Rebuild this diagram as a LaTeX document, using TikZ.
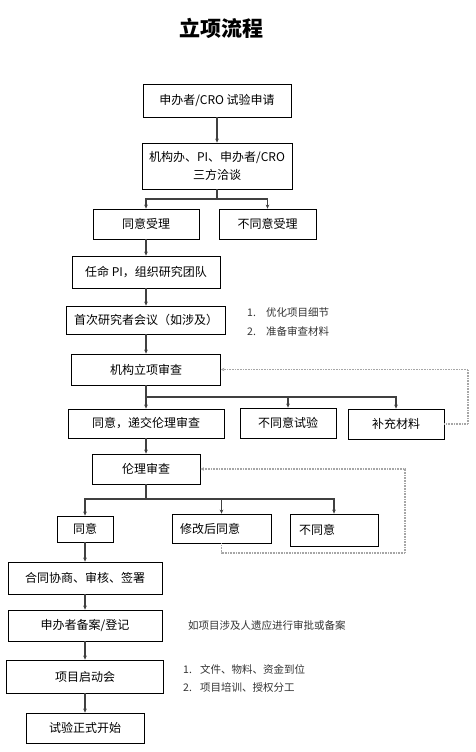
\documentclass[tikz,border=0pt]{standalone}
\usepackage{fontspec}
\setmainfont{Noto Sans CJK SC}
\usetikzlibrary{arrows.meta,positioning,calc}

\begin{document}
\begin{tikzpicture}[x=1pt,y=-1pt,>={Stealth[length=4pt,width=3.6pt]},font=\fontsize{12}{18}\selectfont,
  box/.style={draw=black,line width=0.8pt,inner sep=0pt,align=center},
  leftbox/.style={box,align=left,inner ysep=0pt},
  arr/.style={->,draw=black!75,line width=1.1pt},
  fb/.style={-{Stealth[length=3.5pt,width=3.5pt]},draw=gray!70,dash pattern=on 0.8pt off 0.8pt,line width=1.1pt},
  note/.style={anchor=west,inner sep=0pt,font=\fontsize{10.5}{13}\selectfont,text=black!80}]
  \useasboundingbox (0,0) rectangle (475,752);
  % 标题
  \node[font=\bfseries\fontsize{21}{24}\selectfont] (title) at (221,28) {立项流程};
  % 流程框
  \foreach \nm/\px/\py/\bw/\bh/\lab in {apply/217/100.5/148/33/{申办者/CRO 试验申请},
      accept/146/224/106/30/同意受理, reject/267.5/224/97/30/不同意受理,
      team/146/272/148/32/{任命 PI，组织研究团队}, meet/146/320/159/28/{首次研究者会议（如涉及）},
      inst/146/369.5/149/31/机构立项审查, toethic/146/423.5/156/29/{同意，递交伦理审查},
      notrial/288/423/96/30/不同意试验, supp/396/424/96/30/补充材料,
      ethic/146/469/108/30/伦理审查, agree/85/529/56/26/同意,
      contract/85/578/154/32/{合同协商、审核、签署}, record/85/625.5/154/31/{申办者备案/登记},
      kickoff/85/676.5/157/33/项目启动会, start/85/728/118/30/试验正式开始}
    \node[box,minimum width=\bw,minimum height=\bh] (\nm) at (\px,\py) {\lab};
  \node[box,minimum width=150,minimum height=46] (talk) at (217,166) {机构办、PI、申办者/CRO\\三方洽谈};
  \node[leftbox,text width=83pt,inner xsep=8pt,minimum height=29] (modify) at (221.5,528.5) {修改后同意};
  \node[leftbox,text width=70pt,inner xsep=9pt,minimum height=32] (noagree) at (334,530) {不同意};
  % 分支点
  \coordinate (j1) at (217,199);
  \coordinate (j2) at (146,397);
  \coordinate (j3) at (146,499);
  \coordinate (r1) at (468,424);
  \coordinate (r2) at (405,553);
  % 连线
  \draw[arr] (apply) -- (talk);
  \draw[arr] (talk) -- (j1) -| (accept);
  \draw[arr] (j1) -| (reject);
  \draw[arr] (accept) -- (team);
  \draw[arr] (team) -- (meet);
  \draw[arr] (meet) -- (inst);
  \draw[arr] (inst) -- (toethic);
  \draw[arr] (j2) -| (notrial);
  \draw[arr] (j2) -| (supp);
  \draw[arr] (toethic) -- (ethic);
  \draw[arr] (ethic) -- (j3) -| (agree);
  \draw[arr] (j3) -| (modify);
  \draw[arr] (j3) -| (noagree);
  \draw[arr] (agree) -- (contract);
  \draw[arr] (contract) -- (record);
  \draw[arr] (record) -- (kickoff);
  \draw[arr] (kickoff) -- (start);
  % 反馈（虚线）
  \draw[fb] (supp) -- (r1) |- (inst);
  \draw[fb] (modify.south) |- (r2) |- (ethic);
  % 说明文字
  \node[note] (n1) at (247,312) {\makebox[19pt][l]{1.}优化项目细节};
  \node[note] (n2) at (247,331) {\makebox[19pt][l]{2.}准备审查材料};
  \node[note] (n3) at (188,625) {如项目涉及人遗应进行审批或备案};
  \node[note] (n4) at (183,669) {\makebox[17pt][l]{1.}文件、物料、资金到位};
  \node[note] (n5) at (183,688) {\makebox[17pt][l]{2.}项目培训、授权分工};
\end{tikzpicture}
\end{document}
